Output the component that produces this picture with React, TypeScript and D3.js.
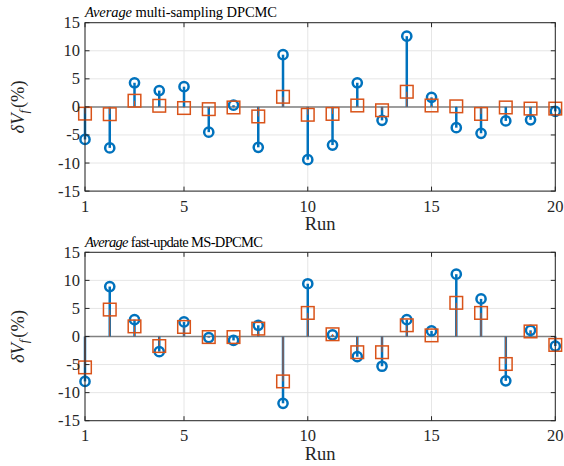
import React from "react";
import * as d3 from "d3";

const runs = d3.range(1, 21);
const xTicks = [1, 5, 10, 15, 20];
const yTicks = [-15, -10, -5, 0, 5, 10, 15];

const topTitle = "multi-sampling DPCMC";
const topBlue = [-5.8, -7.3, 4.3, 2.9, 3.6, -4.5, 0.3, -7.2, 9.3, -9.4, -6.8, 4.3, -2.4, 12.6, 1.7, -3.7, -4.7, -2.5, -2.3, -0.8];
const topOrange = [-1.2, -1.3, 1.1, 0.2, -0.2, -0.4, -0.1, -1.7, 1.8, -1.4, -1.25, 0.25, -0.6, 2.7, 0.25, 0.1, -1.25, -0.1, -0.3, -0.3];

const botTitle = "fast-update MS-DPCMC";
const botBlue = [-8.0, 8.9, 3.0, -2.7, 2.6, -0.2, -0.7, 2.0, -11.9, 9.4, 0.3, -3.6, -5.3, 3.0, 1.0, 11.1, 6.7, -7.9, 1.1, -1.7];
const botOrange = [-5.5, 4.8, 1.8, -1.7, 1.7, -0.1, -0.1, 1.4, -8.0, 4.2, 0.4, -2.8, -2.8, 2.0, 0.2, 6.0, 4.2, -4.9, 0.9, -1.5];

const BLUE = "#0072BD";
const ORANGE = "#D95319";
const AX = "#262626";
const FONT = "Liberation Serif";

const left = 85;
const right = 555.3;

function Panel({ top, title, titleLen, blue, orange }) {
  const bottom = top + 168.4;
  const x = d3.scaleLinear().domain([1, 20]).range([left, right]);
  const y = d3.scaleLinear().domain([-15, 15]).range([bottom, top]);
  const y0 = y(0);
  return (
    <g>
      {/* grid */}
      {yTicks.map((t) => (
        <line key={"gy" + t} x1={left} x2={right} y1={y(t)} y2={y(t)} stroke="#e6e6e6" strokeWidth={1} />
      ))}
      {xTicks.map((t) => (
        <line key={"gx" + t} x1={x(t)} x2={x(t)} y1={top} y2={bottom} stroke="#e6e6e6" strokeWidth={1} />
      ))}
      {/* stem baseline */}
      <line x1={left} x2={right} y1={y0} y2={y0} stroke="#808080" strokeWidth={1.5} />
      {/* stems */}
      {blue.map((v, i) => (
        <line key={"bs" + i} x1={x(runs[i])} x2={x(runs[i])} y1={y0} y2={y(v)} stroke={BLUE} strokeWidth={2.5} />
      ))}
      {orange.map((v, i) => (
        <line key={"os" + i} x1={x(runs[i])} x2={x(runs[i])} y1={y0} y2={y(v)} stroke={ORANGE} strokeWidth={1} />
      ))}
      {blue.map((v, i) => (
        <circle key={"bc" + i} cx={x(runs[i])} cy={y(v)} r={4.6} fill="none" stroke={BLUE} strokeWidth={2.5} />
      ))}
      {orange.map((v, i) => (
        <rect key={"or" + i} x={x(runs[i]) - 6.3} y={y(v) - 6.3} width={12.6} height={12.6} fill="none" stroke={ORANGE} strokeWidth={1.5} />
      ))}
      {/* box */}
      <rect x={left} y={top} width={right - left} height={bottom - top} fill="none" stroke={AX} strokeWidth={1} />
      {/* ticks */}
      {xTicks.map((t) => (
        <g key={"tx" + t}>
          <line x1={x(t)} x2={x(t)} y1={bottom} y2={bottom - 4.5} stroke={AX} />
          <line x1={x(t)} x2={x(t)} y1={top} y2={top + 4.5} stroke={AX} />
          <text x={x(t)} y={bottom + 20.5} textAnchor="middle" fontSize={16.5} fill={AX} fontFamily={FONT}>{t}</text>
        </g>
      ))}
      {yTicks.map((t) => (
        <g key={"ty" + t}>
          <line x1={left} x2={left + 4.5} y1={y(t)} y2={y(t)} stroke={AX} />
          <line x1={right} x2={right - 4.5} y1={y(t)} y2={y(t)} stroke={AX} />
          <text x={left - 5} y={y(t) + 5.5} textAnchor="end" fontSize={16.5} fill={AX} fontFamily={FONT}>{t}</text>
        </g>
      ))}
      {/* title */}
      <text x={left} y={top - 5.5} fontSize={14.5} fill="#000" fontFamily={FONT} textLength={titleLen} lengthAdjust="spacing">
        <tspan fontStyle="italic">Average</tspan> {title}
      </text>
      {/* x label */}
      <text x={(left + right) / 2} y={bottom + 39} textAnchor="middle" fontSize={18.5} fill={AX} fontFamily={FONT}>Run</text>
      {/* y label */}
      <text transform={`translate(24,${(top + bottom) / 2}) rotate(-90)`} textAnchor="middle" fontSize={18.5} fill={AX} fontFamily={FONT}>
        <tspan fontStyle="italic">δV</tspan>
        <tspan fontStyle="italic" fontSize={12.5} dy={4}>f</tspan>
        <tspan dy={-4} dx={2}>(%)</tspan>
      </text>
    </g>
  );
}

export default function App() {
  return (
    <svg width={564} height={466} style={{ display: "block", position: "absolute", left: 0, top: 0, background: "#fff" }}>
      <rect width={564} height={466} fill="#fff" />
      <Panel top={22.7} title={topTitle} titleLen={192} blue={topBlue} orange={topOrange} />
      <Panel top={252.3} title={botTitle} titleLen={178} blue={botBlue} orange={botOrange} />
    </svg>
  );
}
